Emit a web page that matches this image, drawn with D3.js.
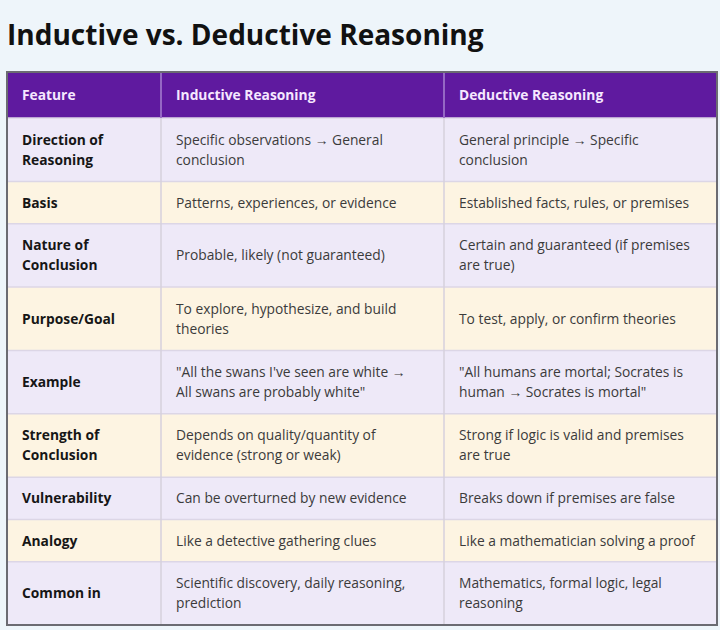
<!DOCTYPE html>
<html>
<head>
<meta charset="utf-8">
<script src="https://cdn.jsdelivr.net/npm/d3@7"></script>
<style>
  body { margin: 0; background: #eef5fa; }
  svg { display: block; }
  text { font-family: "Open Sans", "Noto Sans", sans-serif; }
</style>
</head>
<body>
<div id="chart"></div>
<script>
// table content, one array per column
var title = "Inductive vs. Deductive Reasoning";
var headers = ["Feature", "Inductive Reasoning", "Deductive Reasoning"];
var features = [
    ["Direction of", "Reasoning"],
    ["Basis"],
    ["Nature of", "Conclusion"],
    ["Purpose/Goal"],
    ["Example"],
    ["Strength of", "Conclusion"],
    ["Vulnerability"],
    ["Analogy"],
    ["Common in"]
];
var inductive = [
    ["Specific observations \u2192 General", "conclusion"],
    ["Patterns, experiences, or evidence"],
    ["Probable, likely (not guaranteed)"],
    ["To explore, hypothesize, and build", "theories"],
    ["\"All the swans I've seen are white \u2192", "All swans are probably white\""],
    ["Depends on quality/quantity of", "evidence (strong or weak)"],
    ["Can be overturned by new evidence"],
    ["Like a detective gathering clues"],
    ["Scientific discovery, daily reasoning,", "prediction"]
];
var deductive = [
    ["General principle \u2192 Specific", "conclusion"],
    ["Established facts, rules, or premises"],
    ["Certain and guaranteed (if premises", "are true)"],
    ["To test, apply, or confirm theories"],
    ["\"All humans are mortal; Socrates is", "human \u2192 Socrates is mortal\""],
    ["Strong if logic is valid and premises", "are true"],
    ["Breaks down if premises are false"],
    ["Like a mathematician solving a proof"],
    ["Mathematics, formal logic, legal", "reasoning"]
];
var rowFills = ["#eee9f8", "#fdf4e2"];

var width = 720, height = 630;
var table = {left: 7, right: 717, top: 72, headerH: 46, bottom: 625};
var colEdges = [7, 161, 444, 717];
var padX = 15, lineH = 20;
var fontSize = 13.8;

var svg = d3.select("#chart").append("svg")
    .attr("width", width)
    .attr("height", height);

svg.append("rect")
    .attr("width", width).attr("height", height)
    .attr("fill", "#eef5fa");

// title, fitted to the width it has in the picture
var titleText = svg.append("text")
    .attr("x", 7)
    .attr("y", 45)
    .attr("font-size", 28)
    .attr("font-weight", 700)
    .attr("fill", "#111")
    .text(title);
var tw = titleText.node().getComputedTextLength();
titleText.attr("font-size", 28 * 477 / tw);

// rows: height depends on number of text lines
var rows = features.map(function(f, i){
    var lines = Math.max(f.length, inductive[i].length, deductive[i].length);
    return {cells: [f, inductive[i], deductive[i]], weight: lines + 1};
});
var totalWeight = d3.sum(rows, function(d){ return d.weight; });
var bodyTop = table.top + table.headerH;
var y = d3.scaleLinear()
    .domain([0, totalWeight])
    .range([bodyTop, table.bottom]);
var acc = 0;
rows.forEach(function(r){
    r.y0 = y(acc);
    acc += r.weight;
    r.y1 = y(acc);
});

// header band
svg.append("rect")
    .attr("x", table.left).attr("y", table.top)
    .attr("width", table.right - table.left).attr("height", table.headerH)
    .attr("fill", "#5f1a9f");

svg.selectAll("text.header")
    .data(headers)
    .enter().append("text")
    .attr("class", "header")
    .attr("x", function(d, i){ return colEdges[i] + padX; })
    .attr("y", table.top + table.headerH / 2 + 5)
    .attr("font-size", fontSize)
    .attr("font-weight", 700)
    .attr("fill", "#f6e8ff")
    .text(function(d){ return d; });

// body rows
var rowG = svg.selectAll("g.row")
    .data(rows)
    .enter().append("g")
    .attr("class", "row");

rowG.append("rect")
    .attr("x", table.left)
    .attr("y", function(d){ return d.y0; })
    .attr("width", table.right - table.left)
    .attr("height", function(d){ return d.y1 - d.y0; })
    .attr("fill", function(d, i){ return rowFills[i % 2]; });

rowG.append("line")
    .attr("x1", table.left).attr("x2", table.right)
    .attr("y1", function(d){ return d.y0; })
    .attr("y2", function(d){ return d.y0; })
    .attr("stroke", "#dcd6e6")
    .attr("stroke-width", 1.5);

rowG.each(function(r){
    var g = d3.select(this);
    r.cells.forEach(function(lines, c){
        var mid = (r.y0 + r.y1) / 2;
        var firstBase = mid - (lines.length - 1) * lineH / 2 + 5;
        g.selectAll("text.c" + c)
            .data(lines)
            .enter().append("text")
            .attr("class", "c" + c)
            .attr("x", colEdges[c] + padX)
            .attr("y", function(d, k){ return firstBase + k * lineH; })
            .attr("font-size", fontSize)
            .attr("font-weight", c == 0 ? 700 : 400)
            .attr("fill", c == 0 ? "#161616" : "#3b3b3b")
            .text(function(d){ return d; });
    });
});

// column dividers
svg.selectAll("line.col")
    .data(colEdges.slice(1, 3))
    .enter().append("line")
    .attr("class", "col")
    .attr("x1", function(d){ return d; }).attr("x2", function(d){ return d; })
    .attr("y1", table.top).attr("y2", table.bottom)
    .attr("stroke", "#d6d1dc")
    .attr("stroke-width", 1.5);

// header dividers drawn lighter over the purple
svg.selectAll("line.hcol")
    .data(colEdges.slice(1, 3))
    .enter().append("line")
    .attr("class", "hcol")
    .attr("x1", function(d){ return d; }).attr("x2", function(d){ return d; })
    .attr("y1", table.top).attr("y2", table.top + table.headerH)
    .attr("stroke", "#8a55c0")
    .attr("stroke-width", 1.5);

// outer border
svg.append("rect")
    .attr("x", table.left).attr("y", table.top)
    .attr("width", table.right - table.left)
    .attr("height", table.bottom - table.top)
    .attr("fill", "none")
    .attr("stroke", "#6b6b72")
    .attr("stroke-width", 2);
</script>
</body>
</html>
